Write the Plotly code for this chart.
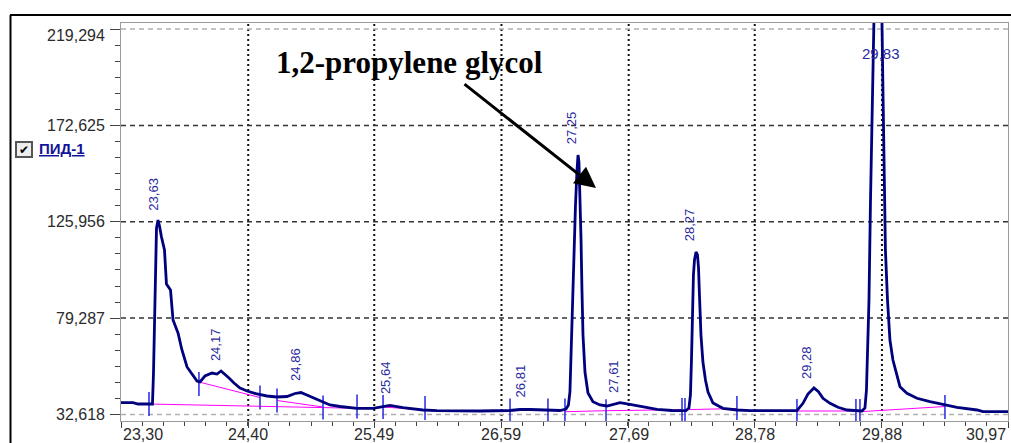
import plotly.graph_objects as go

# ---------------- data ----------------
rt = [23.300, 23.404, 23.447, 23.533, 23.572, 23.581, 23.594, 23.607, 23.620, 23.633,
      23.650, 23.676, 23.693, 23.728, 23.750, 23.793, 23.827, 23.871, 23.914, 23.957,
      23.983, 24.026, 24.087, 24.130, 24.165, 24.199, 24.234, 24.277, 24.329, 24.390,
      24.476, 24.562, 24.649, 24.735, 24.805, 24.856, 24.908, 24.978, 25.038, 25.107,
      25.194, 25.341, 25.479, 25.566, 25.626, 25.738, 25.911, 26.032, 26.145, 26.404,
      26.664, 26.750, 26.837, 26.992, 27.096, 27.148, 27.169, 27.182, 27.191, 27.204,
      27.217, 27.230, 27.243, 27.252, 27.260, 27.269, 27.278, 27.286, 27.295, 27.312,
      27.338, 27.381, 27.442, 27.502, 27.563, 27.615, 27.701, 27.814, 27.935, 28.064,
      28.185, 28.211, 28.224, 28.233, 28.242, 28.250, 28.259, 28.272, 28.285, 28.294,
      28.302, 28.315, 28.332, 28.354, 28.376, 28.419, 28.505, 28.626, 28.739, 29.145,
      29.197, 29.240, 29.292, 29.331, 29.370, 29.431, 29.500, 29.578, 29.707, 29.733,
      29.746, 29.755, 29.768, 29.781, 29.789, 29.798, 29.811, 29.837, 29.863, 29.880,
      29.889, 29.898, 29.910, 29.928, 29.949, 29.975, 30.010, 30.036, 30.096, 30.183,
      30.295, 30.408, 30.529, 30.702, 30.754, 30.970]
signal = [38.33, 38.33, 37.70, 37.46, 37.70, 52.71, 92.91, 122.93, 126.81, 123.90,
          118.57, 112.28, 95.81, 92.91, 78.38, 72.09, 63.85, 55.62, 52.23, 48.84,
          48.36, 51.26, 52.71, 52.23, 53.68, 52.23, 50.29, 47.87, 45.45, 44.00,
          42.55, 41.58, 41.09, 41.33, 42.79, 43.27, 42.06, 40.37, 38.67, 37.22,
          36.49, 35.62, 35.62, 36.25, 36.98, 35.91, 34.80, 34.46, 34.31, 34.31,
          34.55, 35.04, 35.04, 34.55, 34.55, 35.28, 37.22, 43.51, 61.43, 85.64,
          109.86, 134.07, 151.02, 158.28, 154.89, 138.91, 117.12, 92.91, 71.12, 53.20,
          43.03, 38.82, 37.22, 36.73, 37.46, 38.33, 37.56, 36.40, 35.14, 34.55,
          34.46, 35.77, 42.06, 59.01, 83.22, 100.17, 107.43, 111.31, 109.86, 103.56,
          90.49, 71.12, 58.04, 49.33, 43.51, 38.19, 35.62, 34.80, 34.46, 34.46,
          38.04, 42.55, 45.45, 43.66, 40.46, 38.04, 36.11, 34.80, 34.31, 35.77,
          44.48, 59.01, 88.07, 136.49, 175.23, 204.29, 243.03, 300.00, 243.03, 223.66,
          188.79, 160.71, 112.28, 88.07, 68.70, 59.01, 50.78, 46.08, 42.88, 40.46,
          38.82, 37.56, 36.11, 34.80, 33.97, 33.97]

# peak integration marks (start/end)
mark_rt = [23.542, 23.974, 24.502, 24.649, 25.047, 25.341, 25.566, 25.929, 26.664, 26.992,
           27.139, 27.494, 28.151, 28.177, 28.626, 29.145, 29.655, 29.690, 30.425]
mark_val = [37.70, 47.39, 40.85, 39.40, 36.01, 36.49, 36.25, 35.77, 34.55, 34.55,
            34.55, 34.30, 34.80, 34.80, 35.77, 34.31, 34.31, 34.31, 36.25]

# baselines (segments separated by None)
base_rt = [23.542, 25.341, None, 23.974, 24.502, None, 24.649, 25.047, None,
           25.566, 25.929, None, 26.664, 26.992, None, 27.139, 27.494, 28.151, None,
           28.177, 28.626, None, 29.145, 29.655, None, 29.690, 30.425]
base_val = [37.70, 35.62, None, 48.36, 40.85, None, 39.40, 36.25, None,
            36.25, 34.80, None, 34.80, 34.80, None, 33.97, 34.46, 34.95, None,
            34.95, 35.53, None, 34.31, 34.31, None, 33.97, 36.49]

# peak labels (retention time text) and the level just under each label
peak_labels = ["23,63", "24,17", "24,86", "25,64", "26,81", "27,25", "27,61", "28,27", "29,28"]
peak_label_level = [131.65, 59.01, 49.33, 43.03, 41.58, 164.10, 43.51, 117.12, 50.29]
top_peak_label = "29,83"
top_peak_label_level = 207.2

x_ticks = [23.30, 24.40, 25.49, 26.59, 27.69, 28.78, 29.88, 30.97]
y_ticks = [32.618, 79.287, 125.956, 172.625, 219.294]
x_range = [23.30, 30.97]
y_range = [29.47, 222.2]

compound = "1,2-propylene glycol"
channel = "ПИД-1"

# ---------------- figure ----------------
W, H = 1011, 443
L, R, T, B = 121, 3, 23, 22
PW, PH = W - L - R, H - T - B


def px_x(p):  # pixel -> paper (layout helper only)
    return (p - L) / PW


def px_y(p):
    return (H - B - p) / PH


NAVY = "#00007e"
LABEL_BLUE = "#2a2aa0"
TICK_BLUE = "#3434e6"

fig = go.Figure()

fig.add_trace(go.Scatter(x=base_rt, y=base_val, mode="lines",
                         line=dict(color="#ff00ff", width=1), hoverinfo="skip",
                         connectgaps=False))
fig.add_trace(go.Scatter(x=mark_rt, y=mark_val, mode="markers",
                         marker=dict(symbol="line-ns", size=17,
                                     line=dict(color=TICK_BLUE, width=1.6)),
                         hoverinfo="skip"))
fig.add_trace(go.Scatter(x=rt, y=signal, mode="lines",
                         line=dict(color=NAVY, width=2.8), hoverinfo="skip"))

shapes = []
# vertical dotted grid
for v in x_ticks[1:-1]:
    shapes.append(dict(type="line", xref="x", yref="paper", x0=v, x1=v, y0=0, y1=1,
                       line=dict(color="#111111", width=2, dash="2px,3px"), layer="below"))
# horizontal dashed grid
for i, v in enumerate(y_ticks):
    edge = i == 0 or i == len(y_ticks) - 1
    shapes.append(dict(type="line", xref="paper", yref="y", x0=0, x1=1, y0=v, y1=v,
                       line=dict(color="#b0b0b0" if edge else "#333333", width=1.5,
                                 dash="5px,4px"), layer="below"))
# outer window frame
shapes.append(dict(type="line", xref="paper", yref="paper", x0=px_x(10), x1=px_x(1015),
                   y0=px_y(15), y1=px_y(15), line=dict(color="black", width=2)))
shapes.append(dict(type="line", xref="paper", yref="paper", x0=px_x(10.5), x1=px_x(10.5),
                   y0=px_y(15), y1=px_y(450), line=dict(color="black", width=2)))
# checkbox
shapes.append(dict(type="rect", xref="paper", yref="paper", x0=px_x(16), x1=px_x(32),
                   y0=px_y(157), y1=px_y(142), line=dict(color="#555555", width=2),
                   fillcolor="#eeeeee"))

ann = []
# peak labels (rotated)
for t, lv in zip(peak_labels, peak_label_level):
    ann.append(dict(x=float(t.replace(",", ".")), y=lv, xref="x", yref="y", text=t,
                    textangle=-90, showarrow=False, xanchor="center", yanchor="bottom",
                    xshift=-6, yshift=-3,
                    font=dict(family="Liberation Sans Narrow, Liberation Sans",
                              size=13, color=LABEL_BLUE)))
ann.append(dict(x=float(top_peak_label.replace(",", ".")), y=top_peak_label_level,
                xref="x", yref="y", text=top_peak_label, showarrow=False,
                xanchor="center", yanchor="middle", xshift=5,
                font=dict(family="Liberation Sans", size=15, color=LABEL_BLUE)))
# x tick labels
for i, v in enumerate(x_ticks):
    anchor = "left" if i == 0 else ("right" if i == len(x_ticks) - 1 else "center")
    ann.append(dict(x=v, y=px_y(434.5), xref="x", yref="paper",
                    text=f"{v:.2f}".replace(".", ","), showarrow=False,
                    xanchor=anchor, yanchor="middle",
                    font=dict(family="Liberation Sans", size=16, color="#2b2b2b")))
# y tick labels
for i, v in enumerate(y_ticks):
    ann.append(dict(x=px_x(107), y=v, xref="paper", yref="y",
                    text=f"{v:.3f}".replace(".", ","), showarrow=False,
                    xanchor="right", yanchor="middle",
                    yshift=-6 if i == len(y_ticks) - 1 else 0,
                    font=dict(family="Liberation Sans", size=16, color="#2b2b2b")))
# compound label and arrow
ann.append(dict(x=px_x(409), y=px_y(62), xref="paper", yref="paper", text=f"<b>{compound}</b>",
                showarrow=False, xanchor="center", yanchor="middle",
                font=dict(family="Liberation Serif", size=31, color="black")))
ann.append(dict(x=px_x(596), y=px_y(188), xref="paper", yref="paper", text="",
                showarrow=True, ax=463 - 596, ay=83 - 188, arrowhead=2, arrowsize=1.4,
                arrowwidth=3, arrowcolor="black", standoff=0))
# legend checkbox + channel name
ann.append(dict(x=px_x(24), y=px_y(149.5), xref="paper", yref="paper", text="<b>✔</b>",
                showarrow=False, xanchor="center", yanchor="middle",
                font=dict(family="DejaVu Sans", size=12, color="black")))
ann.append(dict(x=px_x(37), y=px_y(148.5), xref="paper", yref="paper",
                text=f"<b><u>{channel}</u></b>", showarrow=False, xanchor="left",
                yanchor="middle", font=dict(family="Liberation Sans", size=15, color="#14149a")))

fig.update_layout(
    width=W, height=H,
    margin=dict(l=L, r=R, t=T, b=B, pad=0),
    paper_bgcolor="white", plot_bgcolor="white",
    showlegend=False,
    shapes=shapes, annotations=ann,
    xaxis=dict(range=x_range, tickmode="array", tickvals=x_ticks, showticklabels=False,
               showgrid=False, zeroline=False, showline=True, linecolor="#9a9a9a",
               linewidth=1, mirror=True, ticks="outside", ticklen=6, tickcolor="#444444",
               tickwidth=1,
               minor=dict(ticks="outside", ticklen=4, tickcolor="#444444",
                          tick0=x_range[0], dtick=(x_range[1] - x_range[0]) / 42,
                          showgrid=False)),
    yaxis=dict(range=y_range, tickmode="array", tickvals=y_ticks, showticklabels=False,
               showgrid=False, zeroline=False, showline=True, linecolor="#9a9a9a",
               linewidth=1, mirror=True, ticks="outside", ticklen=10, tickcolor="#444444",
               tickwidth=1,
               minor=dict(ticks="outside", ticklen=5, tickcolor="#444444",
                          tick0=y_ticks[0], dtick=(y_ticks[1] - y_ticks[0]) / 6,
                          showgrid=False)),
)

fig.write_html("out.html")
